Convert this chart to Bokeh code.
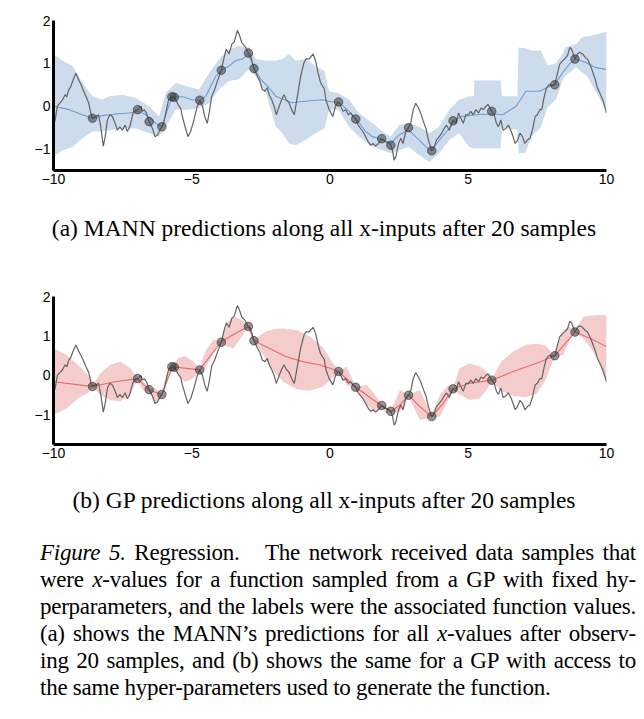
from bokeh.plotting import figure
from bokeh.models import FixedTicker, Div, Range1d
from bokeh.layouts import column
from bokeh.embed import file_html
from bokeh.resources import INLINE

# ---------------- data ----------------
truth_x = [-10.0, -9.95, -9.86, -9.77, -9.67, -9.58, -9.52, -9.45, -9.38, -9.3, -9.19, -9.1, -9.01, -8.93,
           -8.83, -8.73, -8.65, -8.59, -8.47, -8.37, -8.29, -8.2, -8.13, -8.05, -7.96, -7.87, -7.77, -7.69,
           -7.6, -7.51, -7.41, -7.33, -7.24, -7.14, -7.05, -6.96, -6.9, -6.84, -6.78, -6.72, -6.64, -6.54,
           -6.42, -6.33, -6.24, -6.15, -6.08, -6.0, -5.94, -5.84, -5.72, -5.63, -5.58, -5.46, -5.4, -5.34,
           -5.24, -5.14, -5.04, -4.92, -4.8, -4.71, -4.61, -4.53, -4.44, -4.37, -4.28, -4.17, -4.07, -3.93,
           -3.83, -3.75, -3.65, -3.55, -3.47, -3.35, -3.27, -3.19, -3.08, -2.95, -2.87, -2.75, -2.63, -2.54,
           -2.45, -2.35, -2.27, -2.2, -2.11, -2.02, -1.94, -1.84, -1.75, -1.66, -1.58, -1.48, -1.39, -1.29,
           -1.18, -1.06, -0.94, -0.86, -0.76, -0.61, -0.52, -0.42, -0.34, -0.25, -0.21, -0.15, -0.03, 0.1,
           0.2, 0.31, 0.39, 0.47, 0.57, 0.66, 0.75, 0.85, 0.93, 1.02, 1.11, 1.19, 1.29, 1.38, 1.47, 1.56,
           1.65, 1.75, 1.87, 1.99, 2.1, 2.2, 2.26, 2.32, 2.38, 2.48, 2.56, 2.64, 2.74, 2.84, 2.92, 3.01,
           3.1, 3.2, 3.28, 3.38, 3.47, 3.56, 3.68, 3.77, 3.85, 3.95, 4.04, 4.13, 4.21, 4.31, 4.45, 4.55,
           4.65, 4.73, 4.82, 4.91, 5.01, 5.09, 5.18, 5.28, 5.37, 5.46, 5.54, 5.64, 5.72, 5.85, 5.94, 6.02,
           6.09, 6.18, 6.26, 6.36, 6.45, 6.54, 6.62, 6.7, 6.78, 6.87, 6.96, 7.05, 7.14, 7.23, 7.32, 7.42,
           7.5, 7.59, 7.66, 7.75, 7.83, 7.93, 8.03, 8.13, 8.23, 8.31, 8.41, 8.5, 8.59, 8.67, 8.74, 8.86,
           8.95, 9.03, 9.13, 9.23, 9.31, 9.4, 9.49, 9.59, 9.67, 9.76, 9.86, 9.95, 10.0]
truth_y = [-0.25, -0.36, 0.0, 0.07, 0.15, 0.27, 0.22, 0.38, 0.45, 0.6, 0.77, 0.63, 0.51, 0.39,
           0.23, 0.08, -0.16, -0.28, -0.24, -0.2, -0.48, -0.93, -0.71, -0.32, -0.2, -0.24, -0.4, -0.56,
           -0.48, -0.56, -0.44, -0.59, -0.48, -0.2, -0.1, -0.08, -0.05, 0.0, -0.12, -0.08, -0.16, -0.36,
           -0.52, -0.71, -0.67, -0.55, -0.48, -0.35, -0.16, 0.15, 0.22, 0.21, 0.15, 0.0, -0.05, -0.24,
           -0.48, -0.71, -0.59, -0.32, 0.0, 0.14, 0.0, -0.24, -0.4, -0.16, 0.23, 0.39, 0.59, 0.84,
           1.14, 1.33, 1.22, 1.45, 1.49, 1.77, 1.65, 1.48, 1.4, 1.24, 1.18, 0.88, 0.7, 0.59,
           0.39, 0.35, 0.43, 0.27, 0.15, 0.0, -0.2, 0.0, 0.15, 0.27, 0.15, 0.08, -0.08, -0.2,
           0.23, 0.7, 1.02, 1.11, 1.1, 1.22, 1.06, 0.74, 0.55, 0.45, 0.42, 0.15, -0.08, -0.24,
           0.0, 0.1, 0.0, -0.12, -0.08, -0.2, -0.16, -0.25, -0.3, -0.44, -0.52, -0.59, -0.71, -0.83, -0.91, -0.87,
           -0.93, -0.87, -0.76, -0.83, -0.85, -0.91, -1.03, -1.26, -1.18, -0.87, -0.75, -0.87, -0.59, -0.5, -0.4, -0.08,
           0.07, -0.04, -0.16, -0.36, -0.52, -0.79, -1.04, -0.95, -0.79, -0.71, -0.63, -0.52, -0.44, -0.56, -0.34, -0.4,
           -0.16, -0.28, -0.4, -0.2, -0.2, -0.12, -0.2, -0.08, -0.16, -0.04, -0.08, 0.0, 0.04, -0.12, -0.2, -0.4,
           -0.48, -0.32, -0.56, -0.52, -0.44, -0.56, -0.71, -0.87, -0.79, -0.63, -0.71, -0.87, -0.79, -0.75, -0.56, -0.24,
           -0.2, -0.08, -0.08, 0.23, 0.43, 0.51, 0.48, 0.5, 0.78, 0.98, 1.06, 1.11, 1.18, 1.37, 1.33, 1.1,
           1.22, 1.26, 1.22, 1.14, 1.1, 0.98, 0.82, 0.63, 0.43, 0.31, 0.15, -0.04, -0.16]

sample_x = [-8.59, -6.96, -6.54, -6.08, -5.72, -5.63, -4.71, -3.93, -2.95, -2.75,
            0.31, 0.93, 1.87, 2.2, 2.84, 3.68, 4.45, 5.85, 8.13, 8.86]
sample_y = [-0.28, -0.08, -0.36, -0.48, 0.22, 0.21, 0.14, 0.84, 1.24, 0.88,
            0.1, -0.3, -0.76, -0.91, -0.5, -1.04, -0.34, -0.12, 0.5, 1.1]

mann_mean_x = [-10.0, -9.43, -8.95, -8.59, -8.23, -7.75, -7.27, -6.96, -6.66, -6.3, -6.08, -5.88, -5.7,
               -5.34, -4.98, -4.71, -4.49, -4.31, -4.13, -3.89, -3.65, -3.41, -3.17, -2.95, -2.75, -2.51,
               -2.2, -1.96, -1.66, -1.36, -1.0, -0.52, -0.27, 0.08, 0.31, 0.69, 0.93, 1.29, 1.53, 1.87,
               2.2, 2.5, 2.84, 3.16, 3.47, 3.68, 3.95, 4.31, 4.45, 4.79, 5.28, 5.85, 6.24, 6.73, 7.09,
               7.57, 8.13, 8.41, 8.65, 8.89, 9.25, 9.61, 10.0]
mann_mean_y = [0.0, -0.08, -0.2, -0.28, -0.22, -0.18, -0.16, -0.12, -0.2, -0.4, -0.48, -0.08, 0.22,
               0.22, 0.15, 0.14, 0.23, 0.47, 0.7, 0.86, 0.94, 1.06, 1.1, 1.22, 0.9, 0.63,
               0.43, 0.23, 0.15, 0.08, 0.11, 0.14, 0.15, 0.1, 0.1, -0.12, -0.28, -0.59, -0.71, -0.77,
               -0.87, -0.67, -0.55, -0.75, -0.95, -1.04, -0.79, -0.52, -0.34, -0.24, -0.2, -0.18, -0.2, 0.0, 0.35,
               0.35, 0.51, 0.78, 0.98, 1.1, 1.02, 0.9, 0.86]

mann_band_x = [-10.0, -9.67, -9.31, -8.95, -8.59, -8.23, -7.99, -7.51, -7.02, -6.54, -6.18, -5.94, -5.58,
               -5.1, -4.73, -4.37, -4.01, -3.65, -3.29, -2.92, -2.68, -2.32, -1.96, -1.72, -1.48, -1.24,
               -0.88, -0.52, -0.2, -0.03, 0.31, 0.69, 1.05, 1.54, 1.9, 2.2, 2.5, 2.84, 3.22, 3.59, 3.95,
               4.31, 4.67, 5.03, 5.2, 5.22, 6.17, 6.22, 6.78, 6.82, 7.05, 7.3, 7.62, 7.87, 8.17, 8.4,
               8.5, 8.9, 9.1, 9.3, 9.47, 10.0]
mann_band_upper = [1.22, 1.06, 0.94, 0.55, 0.23, 0.15, 0.23, 0.27, 0.19, 0.0, -0.24, 0.31, 0.55,
                   0.45, 0.39, 0.78, 1.1, 1.33, 1.41, 1.37, 1.1, 1.06, 1.06, 1.1, 1.22, 1.06,
                   1.1, 0.94, 0.82, 0.35, 0.31, 0.15, -0.16, -0.4, -0.59, -0.71, -0.44, -0.4, -0.48, -0.63, -0.48,
                   -0.08, 0.15, 0.23, 0.23, 0.6, 0.6, 0.23, 0.23, 1.37, 1.35, 1.3, 1.3, 0.95, 1.0, 1.2,
                   1.37, 1.45, 1.6, 1.63, 1.65, 1.74]
mann_band_lower = [-1.18, -1.03, -0.95, -0.75, -0.59, -0.59, -0.56, -0.52, -0.52, -0.63, -0.71, -0.48, -0.08,
                   -0.08, -0.04, 0.07, 0.39, 0.59, 0.63, 0.86, 0.7, 0.31, -0.48, -0.63, -0.87, -0.91,
                   -0.79, -0.63, -0.52, -0.08, -0.08, -0.48, -0.71, -0.95, -1.03, -1.1, -1.03, -0.95, -1.14, -1.3, -1.1,
                   -0.79, -0.63, -0.95, -0.98, -0.98, -0.98, -0.5, -0.55, -1.1, -1.1, -0.7, -0.5, -0.02, 0.15, 0.59,
                   0.7, 0.91, 0.8, 0.7, 0.5, -0.1]

gp_mean_x = [-10.0, -9.3, -8.59, -7.77, -6.96, -6.54, -6.08, -5.7, -4.71, -3.93, -3.41, -2.95, -2.75,
             -2.2, -1.6, -1.0, -0.4, 0.0, 0.31, 0.93, 1.87, 2.2, 2.53, 2.84, 3.25, 3.68, 4.1, 4.45,
             5.06, 5.85, 6.63, 7.47, 8.13, 8.86, 9.4, 10.0]
gp_mean_y = [-0.16, -0.22, -0.28, -0.16, -0.08, -0.37, -0.49, 0.22, 0.14, 0.86, 1.07, 1.24, 0.88,
             0.69, 0.48, 0.35, 0.27, 0.18, 0.1, -0.3, -0.77, -0.92, -0.75, -0.5, -0.79, -1.04, -0.7, -0.34,
             -0.2, -0.12, 0.1, 0.31, 0.5, 1.1, 0.94, 0.73]

gp_band_x = [-10.0, -9.52, -9.04, -8.75, -8.59, -8.31, -7.95, -7.59, -7.23, -6.96, -6.77, -6.54, -6.33,
             -6.08, -5.9, -5.7, -5.48, -5.24, -4.94, -4.71, -4.52, -4.22, -3.93, -3.73, -3.49, -3.19,
             -2.95, -2.85, -2.75, -2.53, -2.29, -2.05, -1.69, -1.2, -0.72, -0.24, 0.06, 0.31, 0.6, 0.93,
             1.33, 1.63, 1.87, 2.03, 2.2, 2.53, 2.84, 3.25, 3.68, 3.98, 4.28, 4.45, 4.69, 5.06, 5.42,
             5.66, 5.85, 6.2, 6.65, 7.1, 7.5, 7.8, 8.0, 8.13, 8.43, 8.67, 8.86, 9.16, 9.64, 10.0]
gp_band_upper = [0.69, 0.52, 0.22, 0.0, -0.26, 0.05, 0.27, 0.35, 0.18, -0.06, -0.14, -0.34, -0.32,
                 -0.46, 0.05, 0.24, 0.44, 0.49, 0.35, 0.16, 0.6, 0.9, 0.88, 1.32, 1.49, 1.42,
                 1.26, 1.18, 0.9, 1.02, 1.12, 1.17, 1.19, 1.15, 0.98, 0.7, 0.35, 0.13, 0.22, -0.28,
                 -0.24, -0.49, -0.75, -0.8, -0.9, -0.37, -0.49, -0.37, -1.01, -0.49, -0.24, -0.32, 0.18, 0.31, 0.22,
                 0.1, -0.08, 0.35, 0.62, 0.78, 0.8, 0.75, 0.6, 0.51, 1.15, 1.24, 1.12, 1.49, 1.53, 1.53]
gp_band_lower = [-1.0, -0.83, -0.54, -0.45, -0.3, -0.49, -0.62, -0.66, -0.49, -0.12, -0.38, -0.4, -0.72,
                 -0.52, -0.11, 0.2, -0.03, -0.16, -0.07, 0.12, 0.18, 0.56, 0.82, 0.73, 0.69, 0.98,
                 1.22, 0.95, 0.86, 0.65, 0.38, 0.1, -0.16, -0.35, -0.39, -0.28, -0.07, 0.08, -0.24, -0.32,
                 -0.75, -0.92, -0.79, -0.95, -0.94, -0.92, -0.53, -1.13, -1.06, -1.04, -0.62, -0.36, -0.49, -0.62, -0.58,
                 -0.37, -0.15, -0.4, -0.52, -0.55, -0.45, -0.1, 0.25, 0.48, 0.52, 0.9, 1.07, 0.94, 0.48, -0.16]

x_ticks = [-10, -5, 0, 5, 10]
y_ticks = [-1, 0, 1, 2]
tick_text = {-10: "\u221210", -5: "\u22125", -1: "\u22121"}

caption_a = "(a) MANN predictions along all x-inputs after 20 samples"
caption_b = "(b) GP predictions along all x-inputs after 20 samples"
para_lines = [
    "<i>Figure 5.</i> Regression.&nbsp;&nbsp; The network received data samples that",
    "were <i>x</i>-values for a function sampled from a GP with fixed hy-",
    "perparameters, and the labels were the associated function values.",
    "(a) shows the MANN\u2019s predictions for all <i>x</i>-values after observ-",
    "ing 20 samples, and (b) shows the same for a GP with access to",
    "the same hyper-parameters used to generate the function.",
]


def make_fig(y_lo, top, left, right, frame_h, band_x, band_up, band_lo, band_color,
             mean_x, mean_y, mean_color):
    p = figure(frame_width=553, frame_height=frame_h, output_backend="svg", toolbar_location=None,
               x_range=Range1d(-10, 10), y_range=Range1d(y_lo, 2),
               min_border_top=top, min_border_left=left, min_border_right=right, min_border_bottom=38)
    p.margin = 0
    p.outline_line_color = None
    p.grid.visible = False
    p.background_fill_color = "white"
    p.border_fill_color = "white"
    p.varea(x=band_x, y1=band_lo, y2=band_up, fill_color=band_color, fill_alpha=1.0)
    p.line(mean_x, mean_y, line_color=mean_color, line_width=1.1)
    p.line(truth_x, truth_y, line_color="#636363", line_width=1.2)
    p.scatter(sample_x, sample_y, size=8.5, fill_color="#3c3c3c", fill_alpha=0.55,
              line_color="#2a2a2a", line_alpha=0.6, line_width=1)
    p.xaxis.ticker = FixedTicker(ticks=x_ticks)
    p.yaxis.ticker = FixedTicker(ticks=y_ticks)
    for ax in (p.xaxis[0], p.yaxis[0]):
        ax.major_label_overrides = tick_text
        ax.axis_line_width = 3
        ax.axis_line_color = "black"
        ax.major_tick_line_color = None
        ax.minor_tick_line_color = None
        ax.major_tick_out = 0
        ax.major_tick_in = 0
        ax.major_label_text_font = "Liberation Sans"
        ax.major_label_text_font_size = "14px"
        ax.major_label_text_color = "black"
        ax.major_label_standoff = 3
    return p


p1 = make_fig(-1.5, 20, 51, 32, 150, mann_band_x, mann_band_upper, mann_band_lower, "#ccdcec",
              mann_mean_x, mann_mean_y, "#6c9dd2")
p2 = make_fig(-1.75, 48, 53, 30, 148, gp_band_x, gp_band_upper, gp_band_lower, "#f4cccc",
              gp_mean_x, gp_mean_y, "#e86a6a")

serif = "'Liberation Serif', 'Times New Roman', serif"
div_a = Div(text=f'<div style="font-family:{serif};font-size:23.5px;line-height:40px;text-align:center;'
                 f'width:596px;margin-left:26px;white-space:nowrap;">{caption_a}</div>',
            width=636, height=40, margin=0)
div_b = Div(text=f'<div style="font-family:{serif};font-size:23.5px;line-height:36px;text-align:center;'
                 f'width:596px;margin-left:26px;white-space:nowrap;">{caption_b}</div>',
            width=636, height=36, margin=0)
rows = []
for i, ln in enumerate(para_lines):
    last = "left" if i == len(para_lines) - 1 else "justify"
    rows.append(f'<div style="text-align:justify;text-align-last:{last};white-space:nowrap;">{ln}</div>')
div_p = Div(text=f'<div style="font-family:{serif};font-size:23px;letter-spacing:-0.25px;line-height:27px;'
                 f'padding-top:21px;margin-left:40px;width:596px;">' + "".join(rows) + '</div>',
            width=644, height=201, margin=0)

layout = column(p1, div_a, p2, div_b, div_p, spacing=0)
open("out.html", "w").write(file_html(layout, INLINE))
